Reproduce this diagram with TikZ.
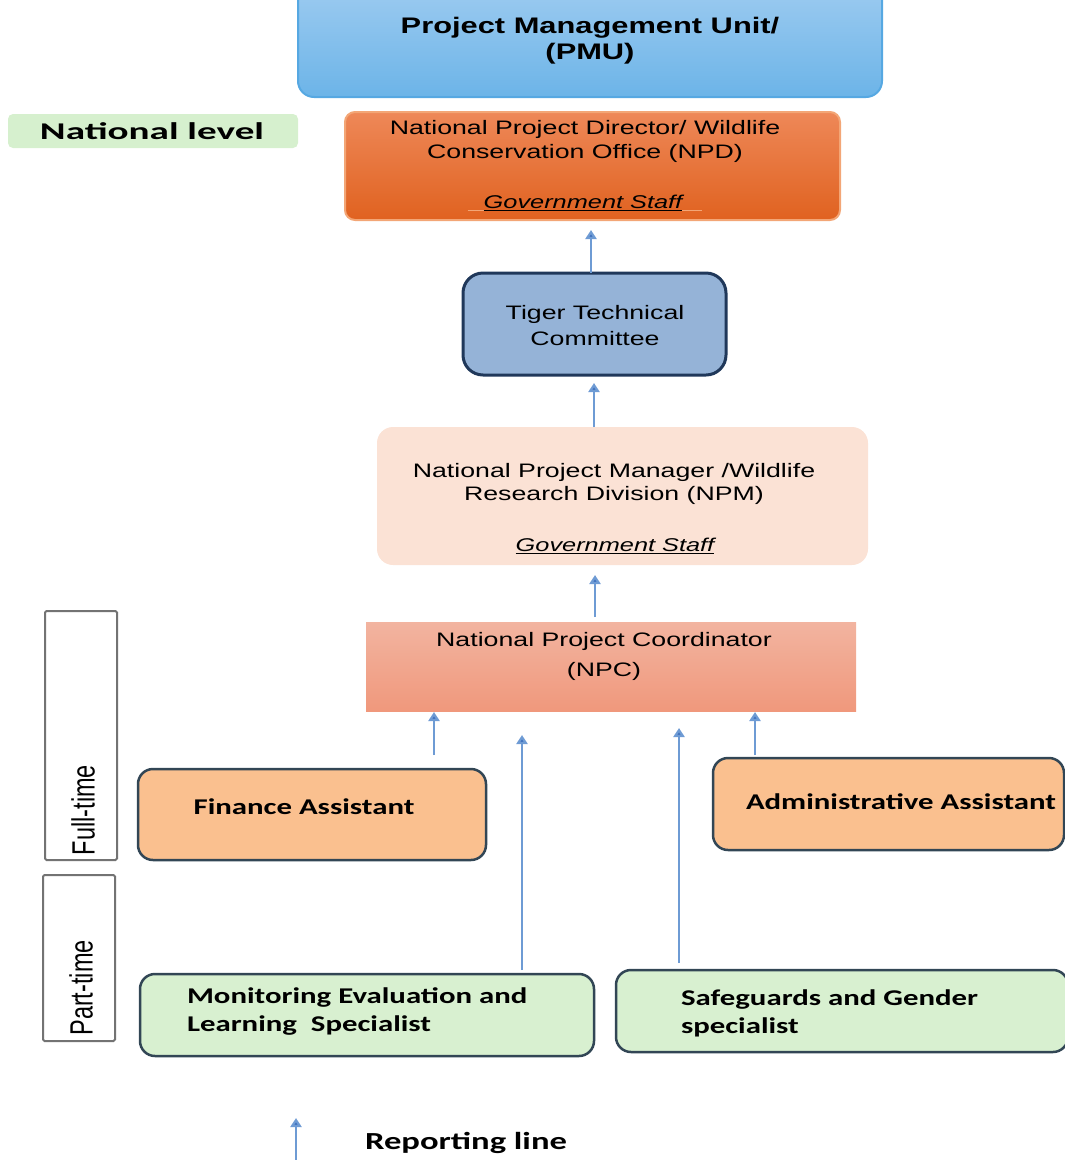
\documentclass[tikz,border=0pt]{standalone}
\usepackage{fontspec}
\setmainfont{Liberation Sans}[FakeStretch=1.37]
\newfontfamily\cali{Carlito}[FakeStretch=1.37]
\newfontfamily\plainf{Liberation Sans}
\usetikzlibrary{arrows.meta,calc}
\definecolor{pmuT}{RGB}{163,206,241}
\definecolor{pmuB}{RGB}{108,180,232}
\definecolor{pmuD}{RGB}{86,168,226}
\definecolor{nlG}{RGB}{214,240,206}
\definecolor{npdT}{RGB}{238,136,88}
\definecolor{npdB}{RGB}{224,98,32}
\definecolor{npdD}{RGB}{243,166,118}
\definecolor{ttcF}{RGB}{149,179,215}
\definecolor{ttcD}{RGB}{32,56,90}
\definecolor{npmF}{RGB}{251,226,213}
\definecolor{npcT}{RGB}{242,180,160}
\definecolor{npcB}{RGB}{240,152,124}
\definecolor{orF}{RGB}{250,192,143}
\definecolor{grF}{RGB}{216,240,208}
\definecolor{bxD}{RGB}{50,70,85}
\definecolor{arL}{RGB}{110,155,212}
\definecolor{arH}{RGB}{62,112,190}
\definecolor{gyD}{RGB}{115,115,115}
\tikzset{
  box/.style={inner sep=0pt, outer sep=0pt},
  txt/.style={inner sep=0pt, outer sep=0pt, align=center},
  rep/.style={draw=arL, line width=2.2pt, -{Triangle[width=11pt,length=9pt,fill=arH]}},
  orbox/.style={box, fill=orF, draw=bxD, line width=2.5pt, rounded corners=15pt},
  grbox/.style={box, fill=grF, draw=bxD, line width=2.5pt, rounded corners=15pt},
  tbox/.style={box, fill=white, draw=gyD, line width=2pt, rounded corners=1.5pt},
  arial/.style={font=\fontsize{19.5}{24}\selectfont},
  cal/.style={font=\cali\bfseries\fontsize{22.5}{28}\selectfont},
}
\begin{document}
\begin{tikzpicture}[x=1pt,y=-1pt]
\useasboundingbox (0,0) rectangle (1065,1160);
\clip (0,0) rectangle (1065,1160);

% boxes
\node[box, top color=pmuT, bottom color=pmuB, draw=pmuD, line width=2pt, rounded corners=16pt,
  minimum width=584pt, minimum height=127pt] (pmu) at (590,33.5) {};
\node[box, fill=nlG, rounded corners=5pt, minimum width=290pt, minimum height=34pt] (nl) at (153,131) {};
\node[box, top color=npdT, bottom color=npdB, draw=npdD, line width=2pt, rounded corners=10pt,
  minimum width=495pt, minimum height=108pt] (npd) at (592.5,166) {};
\node[box, fill=ttcF, draw=ttcD, line width=3pt, rounded corners=20pt,
  minimum width=263pt, minimum height=102pt] (ttc) at (594.5,324) {};
\node[box, fill=npmF, rounded corners=16pt, minimum width=491pt, minimum height=138pt] (npm) at (622.5,496) {};
\node[box, top color=npcT, bottom color=npcB, minimum width=490pt, minimum height=89pt] (npc) at (611,666.5) {};
\node[orbox, minimum width=348pt, minimum height=91pt] (fin) at (312,814.5) {};
\node[orbox, minimum width=351pt, minimum height=92pt] (adm) at (888.5,804) {};
\node[grbox, minimum width=454pt, minimum height=82pt] (mel) at (367,1015) {};
\node[grbox, minimum width=452pt, minimum height=82pt] (sg) at (842,1011) {};
\node[tbox, minimum width=72pt, minimum height=249pt] (ft) at (81,735.5) {};
\node[tbox, minimum width=72pt, minimum height=166pt] (pt) at (79,958) {};

% texts
\node[txt, font=\bfseries\fontsize{22.5}{26}\selectfont] (pmut) at (590,41) {Project Management Unit/\\(PMU)};
\node[txt] (nlt) at (152,131) {\resizebox{224pt}{\height}{\cali\bfseries\fontsize{24}{24}\selectfont National level}};
\node[txt, arial] (npdt) at (585,141) {National Project Director/ Wildlife\\Conservation Office (NPD)};
\node[txt, font=\itshape\fontsize{18.5}{22}\selectfont] (npdg) at (585,203)
  {{\color{npdD}\underline{\hspace{16pt}}}\underline{Government Staff}{\color{npdD}\underline{\hspace{20pt}}}};
\node[txt, arial, font=\fontsize{19.5}{26}\selectfont] (ttct) at (595,326) {Tiger Technical\\Committee};
\node[txt, arial, font=\fontsize{19.5}{23}\selectfont] (npmt) at (614,484) {National Project Manager /Wildlife\\Research Division (NPM)};
\node[txt, font=\itshape\fontsize{18.5}{22}\selectfont] (npmg) at (615,546) {\underline{Government Staff}};
\node[txt, arial, font=\fontsize{19.5}{30}\selectfont] (npct) at (604,656) {National Project Coordinator\\(NPC)};
\node[txt, cal] (fint) at (304,807) {Finance Assistant};
\node[txt, cal] (admt) at (901,802) {Administrative Assistant};
\node[txt, cal, anchor=west, align=left] (melt) at (187,1011) {Monitoring Evaluation and\\Learning\ \ Specialist};
\node[txt, cal, anchor=west, align=left] (sgt) at (681,1013) {Safeguards and Gender\\specialist};
\node[txt, rotate=90] (ftt) at (83,810) {\scalebox{1}[1.37]{\plainf\fontsize{23.5}{24}\selectfont Full-time}};
\node[txt, rotate=90] (ptt) at (81,988) {\scalebox{1}[1.37]{\plainf\fontsize{23.5}{24}\selectfont Part-time}};
\node[txt, anchor=west] (rlt) at (365,1143) {\resizebox{202pt}{\height}{\cali\bfseries\fontsize{24.5}{25}\selectfont Reporting line}};

% arrows
\draw[rep, shorten >=10pt] ([xshift=-3.5pt]ttc.north) -- ([xshift=-3.5pt]ttc.north |- npd.south);
\draw[rep, shorten >=8pt] ([xshift=-28.5pt]npm.north) -- ([xshift=-28.5pt]npm.north |- ttc.south);
\draw[rep, shorten <=5pt, shorten >=10pt] ([xshift=-16pt]npc.north) -- ([xshift=-16pt]npc.north |- npm.south);
\draw[rep, shorten <=14pt, shorten >=1pt] ([xshift=122pt]fin.north) -- ([xshift=122pt]fin.north |- npc.south);
\draw[rep, shorten <=4pt, shorten >=24pt] ([xshift=155pt]mel.north) -- ([xshift=155pt]mel.north |- npc.south);
\draw[rep, shorten <=7pt, shorten >=17pt] ([xshift=-163pt]sg.north) -- ([xshift=-163pt]sg.north |- npc.south);
\draw[rep, shorten <=3pt, shorten >=1pt] ([xshift=-133.5pt]adm.north) -- ([xshift=-133.5pt]adm.north |- npc.south);
\coordinate (lgA) at (296,1162);
\coordinate (lgB) at (296,1118);
\draw[rep] (lgA) -- (lgB);
\end{tikzpicture}
\end{document}
